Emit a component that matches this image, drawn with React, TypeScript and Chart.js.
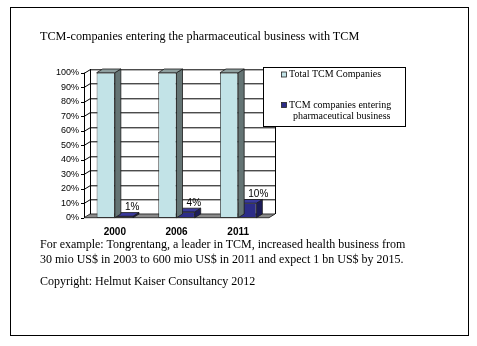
import React, { useEffect, useRef } from "react";
import { Chart, registerables } from "chart.js";

Chart.register(...registerables);

const categories = ["2000", "2006", "2011"];
const totalCompanies = [100, 100, 100];
const enteringCompanies = [1, 4, 10];
const seriesNames = ["Total TCM Companies", "TCM companies entering pharmaceutical business"];
const legendLines = [["Total TCM Companies"], ["TCM companies entering", "pharmaceutical business"]];
const yMax = 100;
const yStep = 10;
const titleText = "TCM-companies entering the pharmaceutical business with TCM";
const noteLines = [
  "For example: Tongrentang, a leader in TCM, increased health business from",
  "30 mio US$ in 2003 to 600 mio US$ in 2011 and expect 1 bn US$ by 2015.",
];
const copyrightText = "Copyright: Helmut Kaiser Consultancy 2012";

const DX = 6;
const DY = 3.7;
const SANS = "'Liberation Sans', Arial, sans-serif";
const SERIF = "'Liberation Serif', 'Times New Roman', serif";

const faceColors = [
  { front: "#c2e3e7", side: "#647474", top: "#8e9f9f" },
  { front: "#2c2c88", side: "#1c1c5a", top: "#3a3a9c" },
];

const threeD = {
  id: "threeD",
  beforeDatasetsDraw(chart: any) {
    const { ctx, chartArea: a, scales } = chart;
    const y = scales.y;
    ctx.save();
    // floor
    ctx.beginPath();
    ctx.moveTo(a.left, a.bottom);
    ctx.lineTo(a.right, a.bottom);
    ctx.lineTo(a.right + DX, a.bottom - DY);
    ctx.lineTo(a.left + DX, a.bottom - DY);
    ctx.closePath();
    ctx.fillStyle = "#8a8a8a";
    ctx.fill();
    ctx.strokeStyle = "#333";
    ctx.lineWidth = 1;
    ctx.stroke();
    // gridlines
    ctx.strokeStyle = "#000";
    ctx.lineWidth = 1;
    for (let v = 0; v <= yMax; v += yStep) {
      const py = Math.round(y.getPixelForValue(v)) + 0.5;
      ctx.beginPath();
      ctx.moveTo(a.left - 3, py);
      ctx.lineTo(a.left, py);
      if (v > 0) {
        ctx.lineTo(a.left + DX, py - DY);
        ctx.lineTo(a.right + DX, py - DY);
      }
      ctx.stroke();
    }
    const L = Math.round(a.left) + 0.5;
    const R = Math.round(a.right + DX) + 0.5;
    ctx.beginPath();
    ctx.moveTo(L, a.top);
    ctx.lineTo(L, a.bottom);
    ctx.moveTo(L + DX, a.top - DY);
    ctx.lineTo(L + DX, a.bottom - DY);
    ctx.moveTo(R, a.top - DY);
    ctx.lineTo(R, a.bottom - DY);
    ctx.stroke();
    ctx.restore();
  },
  afterDatasetDraw(chart: any, args: any) {
    const { ctx } = chart;
    const c = faceColors[args.index];
    ctx.save();
    ctx.lineWidth = 0.8;
    ctx.strokeStyle = "#1a1a1a";
    for (const el of args.meta.data) {
      const p = el.getProps(["x", "y", "base", "width"], true);
      const left = p.x - p.width / 2;
      const right = p.x + p.width / 2;
      const top = p.y;
      const base = p.base;
      // side
      ctx.beginPath();
      ctx.moveTo(right, top);
      ctx.lineTo(right + DX, top - DY);
      ctx.lineTo(right + DX, base - DY);
      ctx.lineTo(right, base);
      ctx.closePath();
      ctx.fillStyle = c.side;
      ctx.fill();
      ctx.stroke();
      // top
      ctx.beginPath();
      ctx.moveTo(left, top);
      ctx.lineTo(left + DX, top - DY);
      ctx.lineTo(right + DX, top - DY);
      ctx.lineTo(right, top);
      ctx.closePath();
      ctx.fillStyle = c.top;
      ctx.fill();
      ctx.stroke();
    }
    ctx.restore();
  },
  afterDatasetsDraw(chart: any) {
    const { ctx } = chart;
    ctx.save();
    // data labels for series 2
    const meta = chart.getDatasetMeta(1);
    ctx.font = `10px ${SANS}`;
    ctx.fillStyle = "#000";
    ctx.textAlign = "left";
    ctx.textBaseline = "middle";
    meta.data.forEach((el: any, i: number) => {
      const p = el.getProps(["x", "y"], true);
      ctx.fillText(chart.data.datasets[1].data[i] + "%", p.x + 1, p.y - 9);
    });
    // legend
    const lx = 263.5, ly = 67.5, lw = 142, lh = 59;
    ctx.fillStyle = "#fff";
    ctx.fillRect(lx, ly, lw, lh);
    ctx.strokeStyle = "#000";
    ctx.lineWidth = 1;
    ctx.strokeRect(lx, ly, lw, lh);
    const rows = [74.5, 105];
    ctx.font = `10px ${SERIF}`;
    ctx.textBaseline = "middle";
    chart.data.datasets.forEach((ds: any, i: number) => {
      const cy = rows[i];
      ctx.fillStyle = ds.backgroundColor;
      ctx.fillRect(281.5, cy - 2.5, 5, 5);
      ctx.strokeStyle = "#222";
      ctx.lineWidth = 0.8;
      ctx.strokeRect(281.5, cy - 2.5, 5, 5);
      ctx.fillStyle = "#000";
      const lines = legendLines[i];
      lines.forEach((t, j) => {
        ctx.textAlign = "left";
        ctx.fillText(t, j === 0 ? 289 : 293, cy + j * 11.5);
      });
    });
    ctx.restore();
  },
};

export default function App() {
  const ref = useRef<HTMLCanvasElement | null>(null);
  useEffect(() => {
    if (!ref.current) return;
    const chart = new Chart(ref.current, {
      type: "bar",
      data: {
        labels: categories,
        datasets: [
          {
            label: seriesNames[0],
            data: totalCompanies,
            backgroundColor: faceColors[0].front,
            borderColor: "#1a1a1a",
            borderWidth: 0.8,
            borderSkipped: false,
            barPercentage: 1,
            categoryPercentage: 0.59,
          },
          {
            label: seriesNames[1],
            data: enteringCompanies,
            backgroundColor: faceColors[1].front,
            borderColor: "#1a1a1a",
            borderWidth: 0.8,
            borderSkipped: false,
            barPercentage: 1,
            categoryPercentage: 0.59,
          },
        ],
      },
      options: {
        responsive: false,
        animation: false,
        devicePixelRatio: 1,
        layout: { padding: { left: 0, top: 72.7, right: 208, bottom: 98.3 } },
        plugins: {
          legend: { display: false },
          tooltip: { enabled: false },
          title: { display: false },
        },
        scales: {
          x: {
            grid: { display: false, drawTicks: false },
            border: { display: false },
            ticks: {
              color: "#000",
              padding: 9,
              font: { family: SANS, size: 10, weight: "bold" },
            },
            afterFit: (s: any) => {
              s.height = 30;
            },
          },
          y: {
            min: 0,
            max: yMax,
            grid: { display: false, drawTicks: false },
            border: { display: false },
            ticks: {
              stepSize: yStep,
              color: "#000",
              padding: 5,
              font: { family: SANS, size: 9 },
              callback: (v: any) => v + "%",
            },
            afterFit: (s: any) => {
              s.width = 84;
            },
          },
        },
      },
      plugins: [threeD],
    } as any);
    return () => chart.destroy();
  }, []);

  const textStyle = {
    position: "absolute" as const,
    left: 40,
    fontFamily: SERIF,
    fontSize: 12,
    whiteSpace: "nowrap" as const,
    color: "#000",
  };

  return (
    <div style={{ position: "absolute", left: 0, top: 0, width: 477, height: 346, background: "#fff" }}>
      <div
        style={{
          position: "absolute",
          left: 10,
          top: 7,
          width: 457,
          height: 327,
          border: "1.5px solid #000",
        }}
      />
      <canvas ref={ref} width={477} height={346} style={{ position: "absolute", left: 0, top: 0 }} />
      <div style={{ ...textStyle, top: 28, lineHeight: "16px", fontSize: 12.2 }}>{titleText}</div>
      <div style={{ ...textStyle, top: 237, lineHeight: "14.5px" }}>
        {noteLines.map((l, i) => (
          <div key={i}>{l}</div>
        ))}
      </div>
      <div style={{ ...textStyle, top: 273, lineHeight: "16px" }}>{copyrightText}</div>
    </div>
  );
}
